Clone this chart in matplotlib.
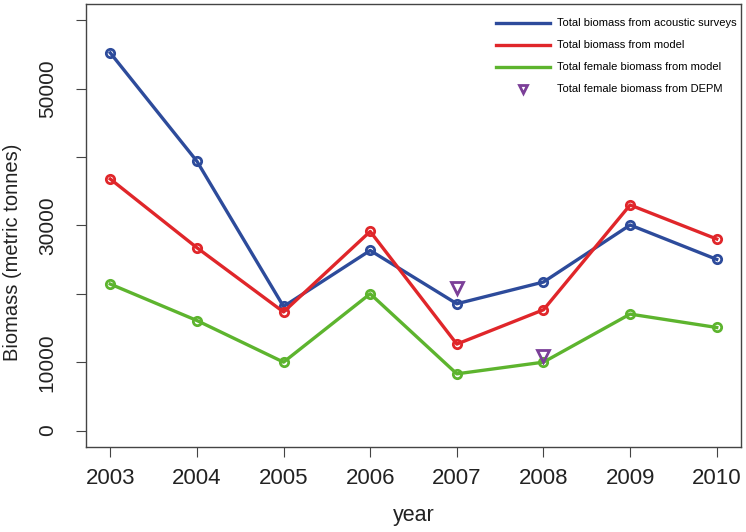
import numpy as np
import matplotlib
matplotlib.use("Agg")
import matplotlib.pyplot as plt

plt.rcParams['font.family'] = ['Liberation Sans', 'DejaVu Sans']

years = [2003, 2004, 2005, 2006, 2007, 2008, 2009, 2010]
acoustic = [55250, 39400, 18150, 26350, 18550, 21730, 30070, 25040]
model_total = [36800, 26750, 17350, 29130, 12650, 17670, 33000, 28020]
model_female = [21430, 16100, 10010, 20010, 8300, 10010, 17040, 15080]
depm_years = [2007, 2008]
depm_female = [20850, 10980]

yticks = [0, 10000, 20000, 30000, 40000, 50000, 60000]
ytick_labels = ['0', '10000', '', '30000', '', '50000', '']

fig = plt.figure(figsize=(7.46, 5.32), dpi=100)
ax = fig.add_axes([0.1153, 0.1598, 0.878, 0.8327])

c_blue = '#2d4b9b'
c_red = '#e0262a'
c_green = '#5db42e'
c_purple = '#7b3f98'

mk = dict(marker='o', markersize=6, markerfacecolor='none', markeredgewidth=2, lw=2.4)
ax.plot(years, acoustic, color=c_blue, label='Total biomass from acoustic surveys', **mk)
ax.plot(years, model_total, color=c_red, label='Total biomass from model', **mk)
ax.plot(years, model_female, color=c_green, label='Total female biomass from model', **mk)
ax.plot(depm_years, depm_female, ls='none', marker='v', markersize=8, markerfacecolor='none',
        markeredgewidth=2, color=c_purple, label='Total female biomass from DEPM')

ax.set_xlim(2002.72, 2010.28)
ax.set_ylim(-2400, 62400)
ax.set_xticks(years)
ax.set_xticklabels([str(y) for y in years], fontsize=16)
ax.set_yticks(yticks)
ax.set_yticklabels(ytick_labels, fontsize=15, rotation=90, va='center')
ax.tick_params(axis='both', length=7, color='#444444')
ax.tick_params(axis='x', pad=8, colors='#222222', color='#444444')
ax.tick_params(axis='y', pad=14, colors='#222222', color='#444444')
for s in ax.spines.values():
    s.set_color('#444444')
    s.set_linewidth(1)

ax.set_xlabel('year', fontsize=15.5, labelpad=12, color='#222222')
ax.set_ylabel('Biomass (metric tonnes)', fontsize=14.5, color='#222222')
ax.yaxis.set_label_coords(-0.097, 0.44)

handles, labels = ax.get_legend_handles_labels()
for h in handles[:3]:
    h.set_marker('')
handles[3].set_markersize(6)
leg = ax.legend(handles, labels, loc='upper right', fontsize=8, frameon=False,
                handlelength=4.9, handletextpad=0.6, labelspacing=1.08,
                bbox_to_anchor=(1.008, 0.99))
for h in handles[:3]:
    h.set_marker('o')
handles[3].set_markersize(8)

fig.savefig('out.png', dpi=100)
